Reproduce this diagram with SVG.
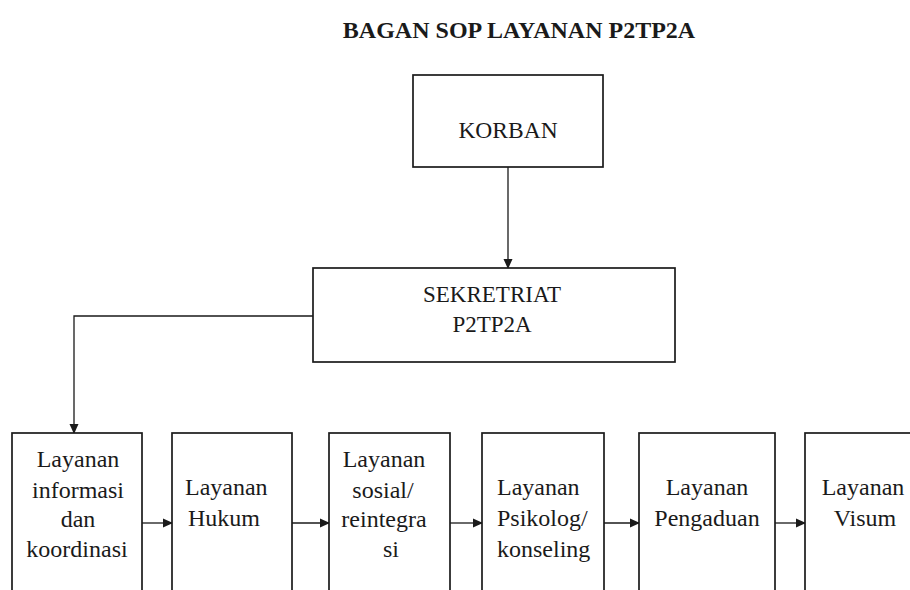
<svg xmlns="http://www.w3.org/2000/svg" width="910" height="590" viewBox="0 0 910 590">
<defs>
<marker id="ah" markerWidth="10" markerHeight="10" refX="9" refY="5" orient="auto" markerUnits="userSpaceOnUse">
<path d="M0,0.5 L10,5 L0,9.5 Z" fill="#1a1a1a"/>
</marker>
<style>
.box{fill:#fff;stroke:#1a1a1a;stroke-width:1.7}
.t{font-size:24px;fill:#1a1a1a;text-anchor:middle}
.s{text-anchor:start}
.title{font-size:24px;font-weight:bold;fill:#1a1a1a;text-anchor:middle}
.c{fill:none;stroke:#1a1a1a;stroke-width:1.3}
</style>
</defs>
<rect width="910" height="590" fill="#fff"/>
<g font-family="Liberation Serif, Times New Roman, Times, DejaVu Serif, serif">
<text class="title" x="519" y="38">BAGAN SOP LAYANAN P2TP2A</text>
<g id="connectors">
<line class="c" x1="508" y1="167" x2="508" y2="268" marker-end="url(#ah)"/>
<polyline class="c" points="313,316 74,316 74,433" marker-end="url(#ah)"/>
<line class="c" x1="142" y1="523" x2="172" y2="523" marker-end="url(#ah)"/>
<line class="c" x1="292" y1="523" x2="329" y2="523" marker-end="url(#ah)"/>
<line class="c" x1="450" y1="523" x2="482" y2="523" marker-end="url(#ah)"/>
<line class="c" x1="604" y1="523" x2="639" y2="523" marker-end="url(#ah)"/>
<line class="c" x1="775" y1="523" x2="805" y2="523" marker-end="url(#ah)"/>
</g>
<g id="korban">
<rect class="box" x="413" y="75" width="190" height="92"/>
<text class="t" x="508" y="138" style="font-size:23.5px">KORBAN</text>
</g>
<g id="sekretariat">
<rect class="box" x="313" y="268" width="362" height="94"/>
<text class="t" x="492" y="302" style="font-size:23px">SEKRETRIAT</text>
<text class="t" x="492" y="332" style="font-size:23px">P2TP2A</text>
</g>
<g id="informasi">
<rect class="box" x="12" y="433" width="130" height="170"/>
<text class="t" x="78" y="467">Layanan</text>
<text class="t" x="78" y="498">informasi</text>
<text class="t" x="78" y="527">dan</text>
<text class="t" x="77" y="557">koordinasi</text>
</g>
<g id="hukum">
<rect class="box" x="172" y="433" width="120" height="170"/>
<text class="t s" x="185" y="495">Layanan</text>
<text class="t s" x="188" y="526">Hukum</text>
</g>
<g id="sosial">
<rect class="box" x="329" y="433" width="121" height="170"/>
<text class="t" x="384" y="467">Layanan</text>
<text class="t" x="383" y="498">sosial/</text>
<text class="t" x="384" y="527">reintegra</text>
<text class="t" x="391" y="557">si</text>
</g>
<g id="psikolog">
<rect class="box" x="482" y="433" width="122" height="170"/>
<text class="t s" x="497" y="495">Layanan</text>
<text class="t s" x="497" y="526">Psikolog/</text>
<text class="t s" x="497" y="557">konseling</text>
</g>
<g id="pengaduan">
<rect class="box" x="639" y="433" width="136" height="170"/>
<text class="t" x="707" y="495">Layanan</text>
<text class="t" x="707" y="526">Pengaduan</text>
</g>
<g id="visum">
<rect class="box" x="805" y="433" width="130" height="170"/>
<text class="t" x="863" y="495">Layanan</text>
<text class="t" x="865" y="526">Visum</text>
</g>
</g>
</svg>
